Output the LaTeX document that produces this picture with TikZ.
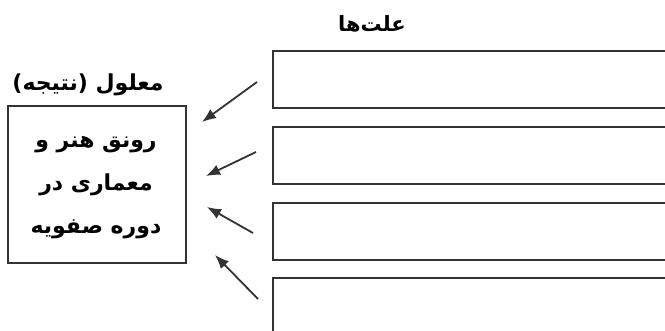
\documentclass[tikz,border=0pt]{standalone}
\usepackage{fontspec}
\newfontfamily\fa[Script=Arabic]{DejaVu Sans}
\TeXXeTstate=1
\usetikzlibrary{arrows.meta}
\definecolor{edge}{HTML}{333333}
\tikzset{
  box/.style={draw=edge, line width=1.8pt, inner sep=0pt},
  cause/.style={box, minimum width=420pt, minimum height=57pt, anchor=north west},
  arr/.style={draw=edge, line width=1.8pt, -{Latex[length=14pt,width=11pt]}},
  lbl/.style={font=\fa\bfseries\fontsize{22}{26}\selectfont, text=black},
}
\begin{document}
\begin{tikzpicture}[x=1pt,y=-1pt]
\useasboundingbox (0,0) rectangle (665,331);
\clip (0,0) rectangle (665,331);
\node[lbl, font=\fa\bfseries\fontsize{21}{26}\selectfont] (title) at (372,24) {\beginR علت‌ها\endR};
\node[lbl] (effl) at (88,85) {\beginR معلول (نتیجه)\endR};
\node[box, minimum width=178pt, minimum height=157pt, anchor=north west] (eff) at (7,105) {};
\node[lbl, align=center, font=\fa\bfseries\fontsize{22}{43}\selectfont] (efft) at (96,188) {\beginR رونق هنر و\endR\\\beginR معماری در\endR\\\beginR دوره صفویه\endR};
\node[cause] (c1) at (272,50) {};
\node[cause] (c2) at (272,126) {};
\node[cause] (c3) at (272,202) {};
\node[cause, minimum height=80pt] (c4) at (272,277) {};
\coordinate (s1) at (257,82);  \coordinate (e1) at (202,122);
\coordinate (s2) at (256,152); \coordinate (e2) at (206,176);
\coordinate (s3) at (253,233); \coordinate (e3) at (207,207);
\coordinate (s4) at (258,299); \coordinate (e4) at (215,255);
\draw[arr] (s1) -- (e1);
\draw[arr] (s2) -- (e2);
\draw[arr] (s3) -- (e3);
\draw[arr] (s4) -- (e4);
\end{tikzpicture}
\end{document}
